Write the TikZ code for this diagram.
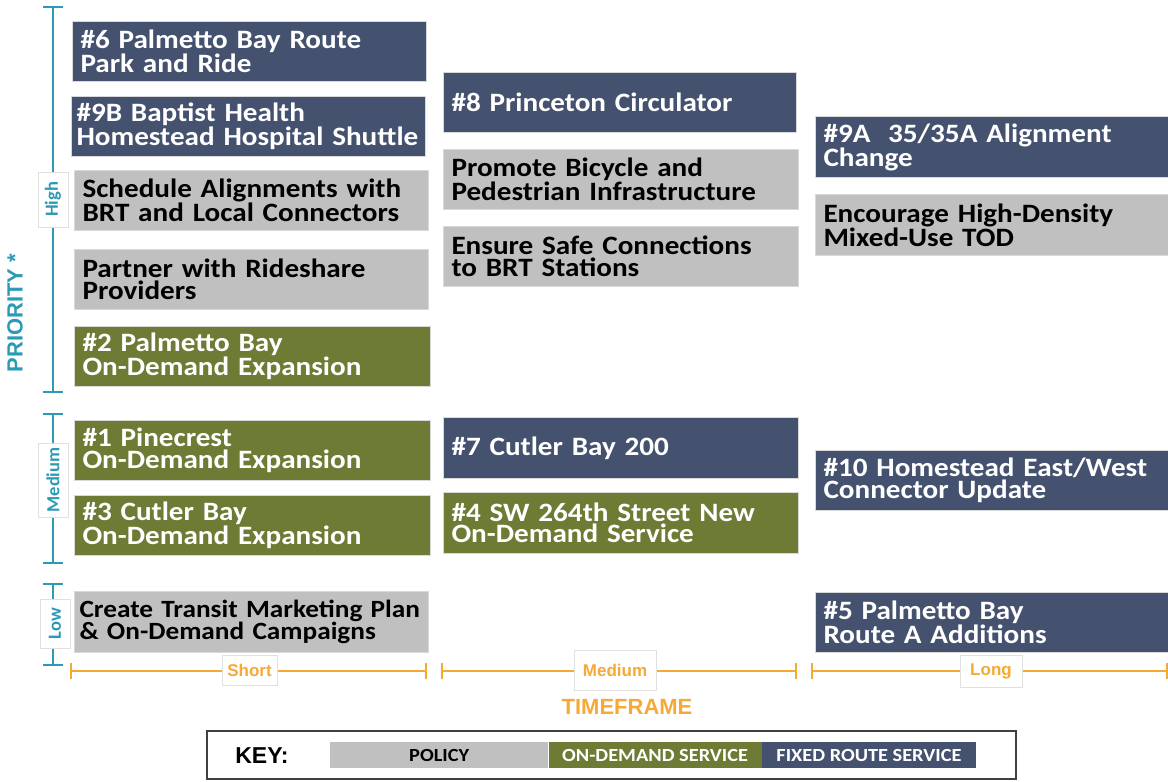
\documentclass[tikz,border=0pt]{standalone}
\usepackage{fontspec}
\setmainfont{Liberation Sans}
\newfontfamily\calfont{Carlito}[FakeStretch=1.1]
\newfontfamily\calplain{Carlito}
\usetikzlibrary{arrows.meta}
\definecolor{navy}{HTML}{45526F}
\definecolor{moss}{HTML}{6E7B35}
\definecolor{policygray}{HTML}{C0C0C0}
\definecolor{prioteal}{HTML}{2B9BB5}
\definecolor{timeorange}{HTML}{F6A935}
\setlength{\lineskiplimit}{-100pt}
\begin{document}
\begin{tikzpicture}[x=1pt,y=-1pt,
    item/.style={draw=black!15, line width=1pt, anchor=north west,
      minimum height=60pt, inner xsep=8pt, inner ysep=0pt,
      text width=338pt, align=left,
      font=\calfont\bfseries\fontsize{26.5}{21.5}\selectfont},
    fixed/.style={item, fill=navy, text=white},
    policy/.style={item, fill=policygray, text=black},
    ondemand/.style={item, fill=moss, text=white},
    tag/.style={fill=white, draw=black!12, line width=0.6pt, inner sep=0pt},
    prio/.style={prioteal, line width=2pt, {Bar[width=20pt]}-{Bar[width=20pt]}},
    tframe/.style={timeorange, line width=2pt, {Bar[width=16pt]}-{Bar[width=16pt]}},
    keybar/.style={anchor=west, minimum width=#1, minimum height=26pt,
      inner sep=0pt, font=\calfont\bfseries\fontsize{18.5}{20}\selectfont}
  ]
  \useasboundingbox (0,0) rectangle (1168,782);

  % short timeframe
  \node[fixed] (p6) at (72,21) {\#6 Palmetto Bay Route\\Park and Ride};
  \node[fixed, inner xsep=5pt, text width=344pt] (p9b) at (71,96) {\#9B Baptist Health\\Homestead Hospital Shuttle};
  \node[policy] (sched) at (74,170) {Schedule Alignments with\\BRT and Local Connectors};
  \node[policy] (rideshare) at (74,249) {Partner with Rideshare\\Providers};
  \node[ondemand, text width=340pt] (p2) at (74,326) {\#2 Palmetto Bay\\On-Demand Expansion};
  \node[ondemand, text width=340pt] (p1) at (74,420) {\#1 Pinecrest\\On-Demand Expansion};
  \node[ondemand, text width=340pt] (p3) at (74,495) {\#3 Cutler Bay\\On-Demand Expansion};
  \node[policy, minimum height=61pt, inner xsep=5pt, text width=344pt,
    font=\calfont\bfseries\fontsize{24.8}{21.5}\selectfont] (marketing) at (74,591) {\mbox{Create Transit Marketing Plan}\\\& On-Demand Campaigns};

  % medium timeframe
  \node[fixed, text width=337pt] (p8) at (443,72) {\#8 Princeton Circulator};
  \node[policy, text width=339pt] (bike) at (443,149) {Promote Bicycle and\\Pedestrian Infrastructure};
  \node[policy, text width=339pt] (brtsafe) at (443,226) {Ensure Safe Connections\\to BRT Stations};
  \node[fixed, text width=339pt, minimum height=61pt] (p7) at (443,417) {\#7 Cutler Bay 200};
  \node[ondemand, text width=339pt, minimum height=61pt] (p4) at (443,492) {\#4 SW 264th Street New\\On-Demand Service};

  % long timeframe
  \node[fixed, text width=337pt, minimum height=61pt] (p9a) at (815,116) {\#9A\ \ 35/35A Alignment\\Change};
  \node[policy, text width=337pt, minimum height=61pt] (tod) at (815,194) {Encourage High-Density\\Mixed-Use TOD};
  \node[fixed, text width=337pt] (p10) at (815,450) {\#10 Homestead East/West\\Connector Update};
  \node[fixed, text width=337pt] (p5) at (815,592) {\#5 Palmetto Bay\\Route A Additions};

  % priority axis
  \coordinate (hightop) at (53,6);
  \coordinate (highbot) at (53,393);
  \coordinate (medtop) at (53,413);
  \coordinate (medbot) at (53,564);
  \coordinate (lowtop) at (53,583);
  \coordinate (lowbot) at (53,666);
  \draw[prio] (hightop) -- (highbot);
  \draw[prio] (medtop) -- (medbot);
  \draw[prio] (lowtop) -- (lowbot);
  \begin{scope}[every node/.style={tag, rotate=90, minimum height=30pt,
      text=prioteal, font=\calplain\bfseries\fontsize{18.5}{20}\selectfont}]
    \node[minimum width=55pt] (high) at (53,199.5) {High};
    \node[minimum width=74pt] (medium) at (53,480) {Medium};
    \node[minimum width=49pt] (low) at (55,623.5) {Low};
  \end{scope}
  \node[rotate=90, text=prioteal, font=\bfseries\fontsize{22}{24}\selectfont] (priority) at (15,313) {PRIORITY *};

  % timeframe axis
  \coordinate (shortl) at (70,671);
  \coordinate (shortr) at (427,671);
  \coordinate (midl) at (441,671);
  \coordinate (midr) at (797,671);
  \coordinate (longl) at (811,671);
  \coordinate (longr) at (1168,671);
  \draw[tframe] (shortl) -- (shortr);
  \draw[tframe] (midl) -- (midr);
  \draw[tframe] (longl) -- (longr);
  \begin{scope}[every node/.style={tag, text=timeorange,
      font=\bfseries\fontsize{17}{19}\selectfont}]
    \node[minimum width=55pt, minimum height=30pt] (short) at (249.5,670.5) {Short};
    \node[minimum width=82pt, minimum height=40pt] (mid) at (615,670) {Medium};
    \node[minimum width=62pt, minimum height=32pt] (long) at (991,671) {Long};
  \end{scope}
  \node[text=timeorange, font=\bfseries\fontsize{22}{24}\selectfont] (timeframe) at (627,707) {TIMEFRAME};

  % key
  \draw[black!75, line width=1.3pt] (207,731) rectangle (1016,779);
  \node[font=\bfseries\fontsize{23}{25}\selectfont] (key) at (262,755.5) {KEY:};
  \node[keybar=218pt, fill=policygray] (kpolicy) at (330,755) {POLICY};
  \node[keybar=213pt, fill=moss, text=white] (kdemand) at (kpolicy.east) {ON-DEMAND SERVICE};
  \node[keybar=214pt, fill=navy, text=white] (kfixed) at (kdemand.east) {FIXED ROUTE SERVICE};
\end{tikzpicture}
\end{document}
